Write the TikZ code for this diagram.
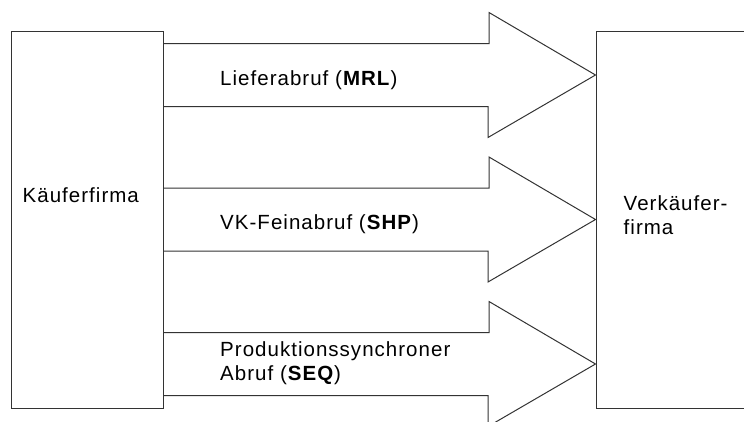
\documentclass[tikz,border=0pt]{standalone}
\usepackage{fontspec}
\setmainfont{Liberation Sans}[LetterSpace=5]
\usepackage{tikz}
\usetikzlibrary{positioning,calc}
\tikzset{
  firma/.style={draw=black!80, line width=1pt, inner sep=0pt, anchor=north west},
  pfeil/.style={draw=black!80, line width=1pt, line join=miter},
  abruftext/.style={anchor=base west, inner sep=0pt, align=left,
    font=\fontsize{20.5}{23.5}\selectfont},
}

\begin{document}
\begin{tikzpicture}[x=1pt,y=-1pt]
        \useasboundingbox (0,0) rectangle (744,421);
        \clip (0,0) rectangle (744,421);
        \node[firma, minimum width=152.5pt, minimum height=377.5pt] (kaeufer) at (10.5,30.5) {};
        \node[firma, minimum width=200pt, minimum height=377pt] (verkaeufer) at (595.5,30.5) {};
        \foreach \i/\m in {1/75, 2/219.5, 3/364} {
          \coordinate (tail\i) at (kaeufer.east |- 0,\m);
          \coordinate (spitze\i) at (verkaeufer.west |- 0,\m);
          \draw[pfeil] (tail\i) ++(0,-31.5) -- ++(325,0) -- ++(0,-31) -- (spitze\i)
            -- ++(-107.5,62.5) -- ++(0,-31) -- ++(-325,0);
        }
        % mehrzeilige Knoten: base = letzte Zeile
        \node[abruftext] (kaeuferText) at (22.5,202) {Käuferfirma};
        \node[abruftext] (verkaeuferText) at (623.5,234) {Verkäufer-\\firma};
        \node[abruftext] (mrl) at (220,85) {Lieferabruf (\textbf{MRL})};
        \node[abruftext] (shp) at (220,229.5) {VK-Feinabruf (\textbf{SHP})};
        \node[abruftext] (seq) at (220,380) {Produktionssynchroner\\Abruf (\textbf{SEQ})};
      \end{tikzpicture}
\end{document}
